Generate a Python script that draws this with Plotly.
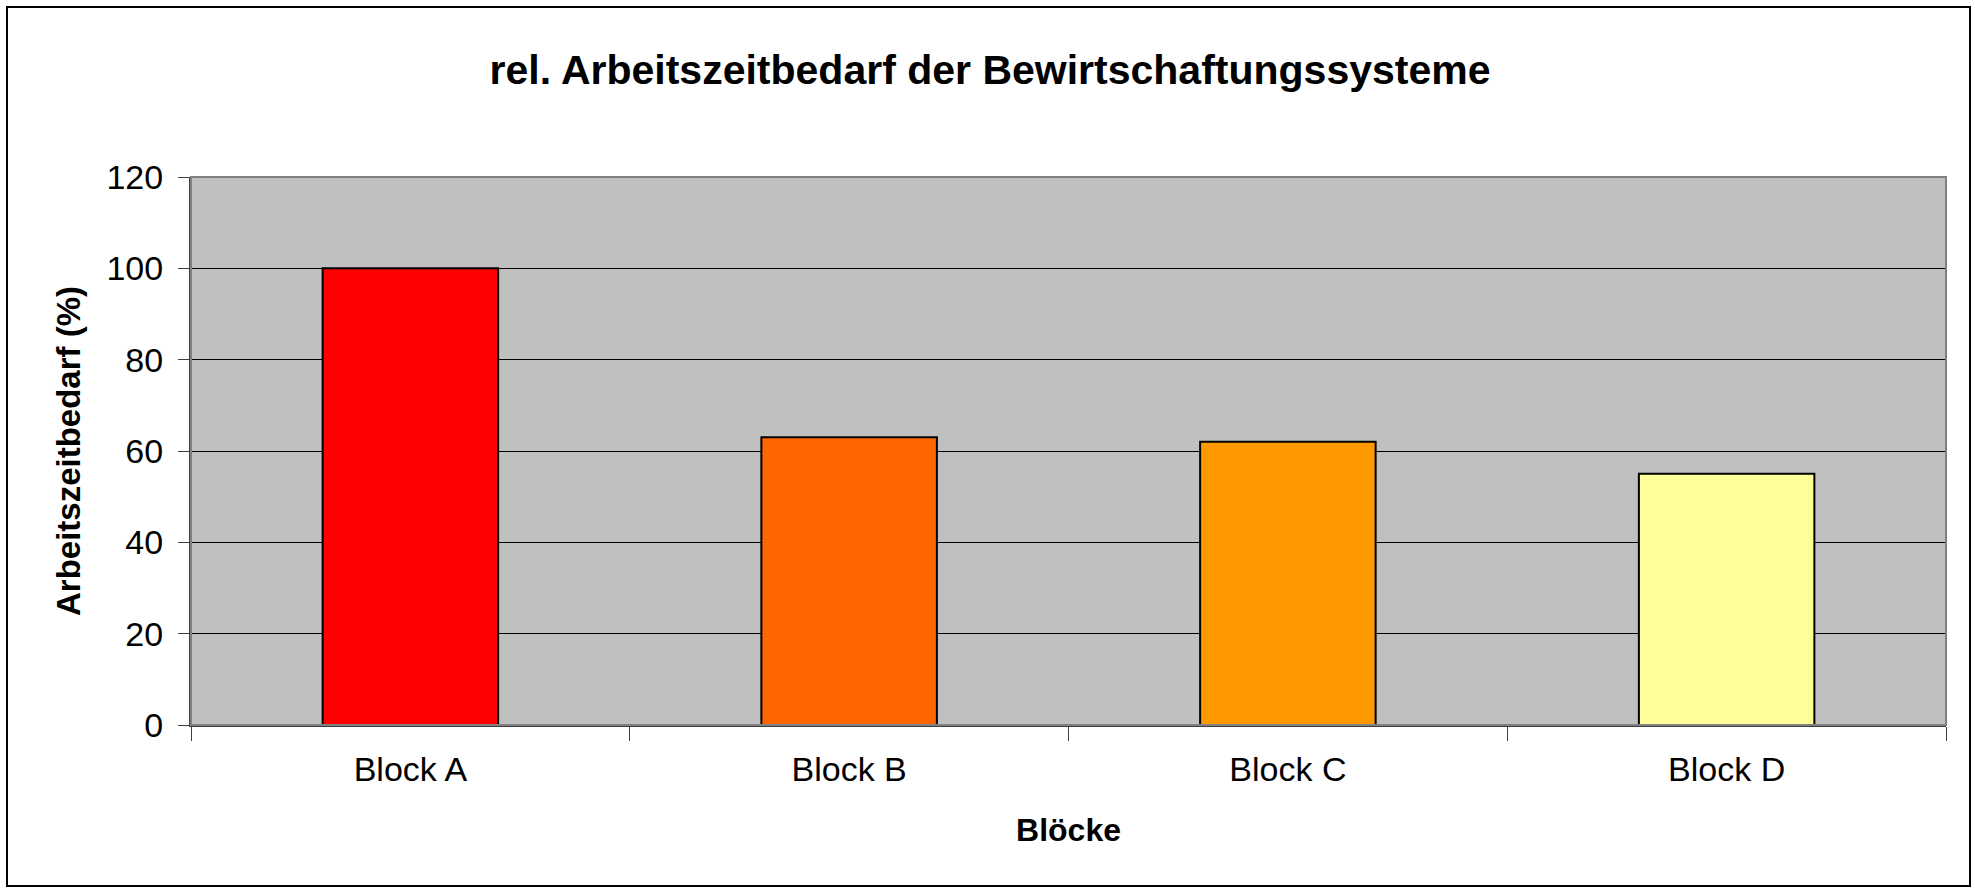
import plotly.graph_objects as go

categories = ["Block A", "Block B", "Block C", "Block D"]
values = [100, 63, 62, 55]
bar_colors = ["#FF0000", "#FF6600", "#FF9900", "#FFFF99"]
y_ticks = [0, 20, 40, 60, 80, 100, 120]

title_text = "rel. Arbeitszeitbedarf der Bewirtschaftungssysteme"
x_title = "Blöcke"
y_title = "Arbeitszeitbedarf (%)"

FONT = "Arial, 'Liberation Sans', sans-serif"
W, H = 1975, 889
ML, MR, MT, MB = 191, 29, 177, 164
PW, PH = W - ML - MR, H - MT - MB

fig = go.Figure()
fig.add_trace(go.Bar(
    x=categories, y=values,
    marker=dict(color=bar_colors, line=dict(color="#000000", width=2)),
    width=0.4,
    hoverinfo="x+y",
))

def px_x(p):
    return (p - ML) / PW

def px_y(p):
    return (H - MB - p) / PH

fig.update_layout(
    width=W, height=H,
    margin=dict(l=ML, r=MR, t=MT, b=MB, pad=0),
    paper_bgcolor="#FFFFFF",
    plot_bgcolor="#C0C0C0",
    font=dict(family=FONT, size=33, color="#000000"),
    showlegend=False,
    title=dict(
        text="<b>" + title_text + "</b>",
        font=dict(family=FONT, size=41, color="#000000"),
        x=990 / W, xanchor="center", xref="container",
        y=1 - 70 / H, yanchor="middle", yref="container",
    ),
    xaxis=dict(
        type="category",
        tickson="boundaries",
        ticks="outside", ticklen=14, tickcolor="#404040", tickwidth=1,
        showline=True, linecolor="#404040", linewidth=2,
        showgrid=False,
        tickfont=dict(family=FONT, size=34),
        ticklabelstandoff=13,
        title=dict(text="<b>" + x_title + "</b>", font=dict(family=FONT, size=32), standoff=32),
        fixedrange=True,
    ),
    yaxis=dict(
        range=[0, 120],
        tickvals=y_ticks,
        ticks="outside", ticklen=11, tickcolor="#404040", tickwidth=1,
        showline=True, linecolor="#404040", linewidth=2,
        showgrid=True, gridcolor="#000000", gridwidth=1,
        zeroline=False,
        tickfont=dict(family=FONT, size=34),
        ticklabelstandoff=8,
        title=dict(text="<b>" + y_title + "</b>", font=dict(family=FONT, size=33), standoff=16),
        fixedrange=True,
    ),
    shapes=[
        # plot area border (gray)
        dict(type="rect", xref="paper", yref="paper", x0=0, x1=1, y0=0, y1=1,
             line=dict(color="#808080", width=2), fillcolor="rgba(0,0,0,0)", layer="above"),
        # outer chart frame
        dict(type="rect", xref="paper", yref="paper",
             x0=px_x(7), x1=px_x(1970), y0=px_y(886), y1=px_y(7),
             line=dict(color="#000000", width=2), fillcolor="rgba(0,0,0,0)", layer="above"),
    ],
)

fig.write_html(
    "out.html",
    config={"displayModeBar": False},
    post_script="document.body.style.margin='0';document.body.style.overflow='hidden';",
)
